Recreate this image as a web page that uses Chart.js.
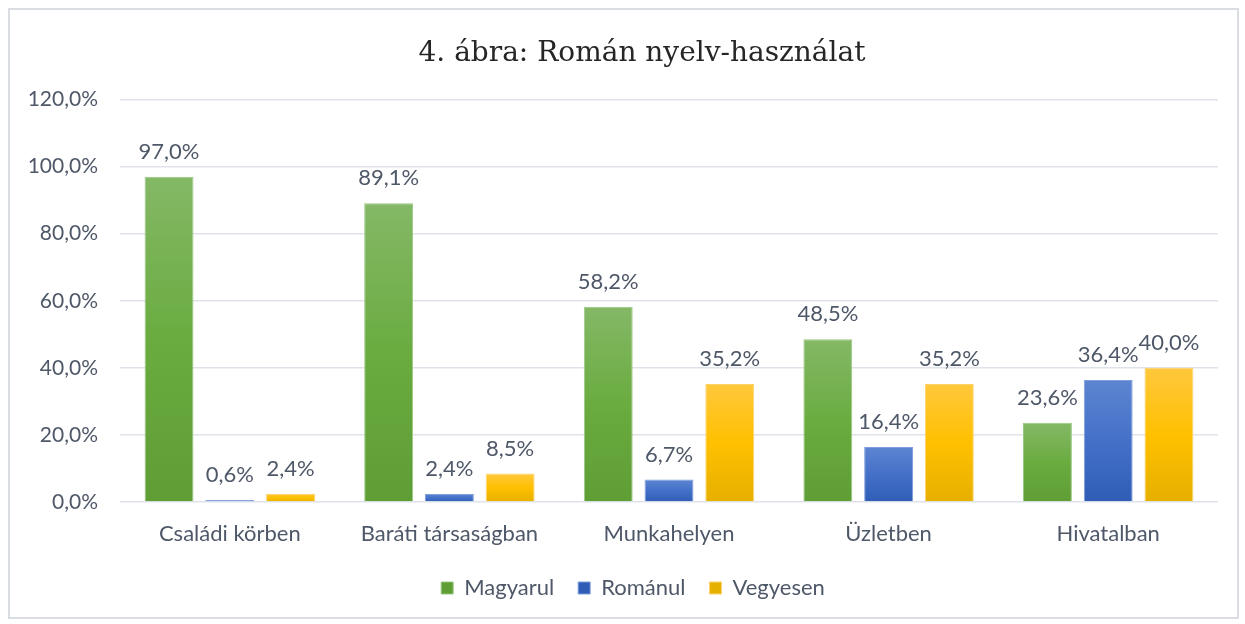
<!DOCTYPE html>
<html>
<head>
<meta charset="utf-8">
<script src="https://cdn.jsdelivr.net/npm/chart.js@4"></script>
<style>
  html, body { margin: 0; padding: 0; background: #fff; }
  #wrap { position: relative; width: 1245px; height: 624px; }
  #frame {
    position: absolute; left: 8px; top: 8px; width: 1227px; height: 607px;
    border: 2px solid #dadde2; pointer-events: none;
  }
</style>
</head>
<body>
<div id="wrap">
  <canvas id="chart"></canvas>
  <div id="frame"></div>
</div>
<script>
// ---- data ----
const categories = ['Családi körben', 'Baráti társaságban', 'Munkahelyen', 'Üzletben', 'Hivatalban'];
const magyarul = [97.0, 89.1, 58.2, 48.5, 23.6];
const romanul  = [0.6, 2.4, 6.7, 16.4, 36.4];
const vegyesen = [2.4, 8.5, 35.2, 35.2, 40.0];
const yMax = 120;
const yStep = 20;

const TEXT = '#4f5868';
const FONT = 'Lato, "Open Sans", sans-serif';

const fmt = v => Number(v).toFixed(1).replace('.', ',') + '%';

// per-bar vertical gradient, solid colour for the legend
function barFill(stops, solid) {
  return (c) => {
    if (c.type !== 'data') return solid;
    const { ctx, chartArea, scales } = c.chart;
    if (!chartArea) return solid;
    const top = scales.y.getPixelForValue(c.parsed.y);
    const base = scales.y.getPixelForValue(0);
    if (base - top < 2) return solid;
    const g = ctx.createLinearGradient(0, top, 0, base);
    g.addColorStop(0, stops[0]);
    g.addColorStop(0.5, stops[1]);
    g.addColorStop(1, stops[2]);
    return g;
  };
}

// ---- value labels above the bars ----
const valueLabels = {
  id: 'valueLabels',
  afterDatasetsDraw(chart) {
    const { ctx } = chart;
    ctx.save();
    ctx.font = '22px ' + FONT;
    ctx.fillStyle = TEXT;
    ctx.textAlign = 'center';
    ctx.textBaseline = 'middle';
    chart.data.datasets.forEach((ds, i) => {
      chart.getDatasetMeta(i).data.forEach((bar, j) => {
        ctx.fillText(fmt(ds.data[j]), bar.x, bar.y - 25);
      });
    });
    ctx.restore();
  }
};

// title and legend sit centred on the whole frame, a bit right of the plot centre
const shiftBlocks = {
  id: 'shiftBlocks',
  afterLayout(chart) {
    const move = (box, dx) => { if (box) { box.left += dx; box.right += dx; } };
    move(chart.titleBlock, 28);
    move(chart.legend, 19);
  }
};

new Chart(document.getElementById('chart'), {
  type: 'bar',
  data: {
    labels: categories,
    datasets: [
      {
        label: 'Magyarul',
        data: magyarul,
        backgroundColor: barFill(['#84b866', '#6aac40', '#5f9d35'], '#69a842'),
        borderColor: '#9ac783',
        borderWidth: 1,
      },
      {
        label: 'Románul',
        data: romanul,
        backgroundColor: barFill(['#5d85d1', '#4470c8', '#2f5db5'], '#3d69c3'),
        borderColor: '#7f9fdc',
        borderWidth: 1,
      },
      {
        label: 'Vegyesen',
        data: vegyesen,
        backgroundColor: barFill(['#ffc83d', '#ffc000', '#e6b000'], '#ffc000'),
        borderColor: '#ffd36a',
        borderWidth: 1,
      },
    ],
  },
  options: {
    responsive: true,
    maintainAspectRatio: false,
    animation: false,
    layout: { padding: { left: 10, right: 27, top: 8, bottom: 15 } },
    datasets: {
      bar: { categoryPercentage: 0.83, barPercentage: 0.805 },
    },
    plugins: {
      title: {
        display: true,
        text: '4. ábra: Román nyelv-használat',
        color: '#262626',
        font: { family: '"DejaVu Serif", serif', size: 28, weight: 'normal' },
        padding: { top: 29, bottom: 29 },
      },
      legend: {
        position: 'bottom',
        labels: {
          color: TEXT,
          font: { family: FONT, size: 22 },
          boxWidth: 12,
          boxHeight: 12,
          padding: 24,
        },
      },
      tooltip: { enabled: false },
    },
    scales: {
      x: {
        grid: { display: false },
        border: { display: false },
        ticks: { color: TEXT, font: { family: FONT, size: 22 }, padding: 11 },
        afterFit: (s) => { s.height = 51; },
      },
      y: {
        min: 0,
        max: yMax,
        afterFit: (s) => { s.width = 110; },
        grid: { color: '#dfe3e9', lineWidth: 1.5, drawTicks: false },
        border: { display: false },
        ticks: {
          stepSize: yStep,
          color: TEXT,
          font: { family: FONT, size: 21 },
          padding: 22,
          callback: (v) => fmt(v),
        },
      },
    },
  },
  plugins: [valueLabels, shiftBlocks],
});
</script>
</body>
</html>
